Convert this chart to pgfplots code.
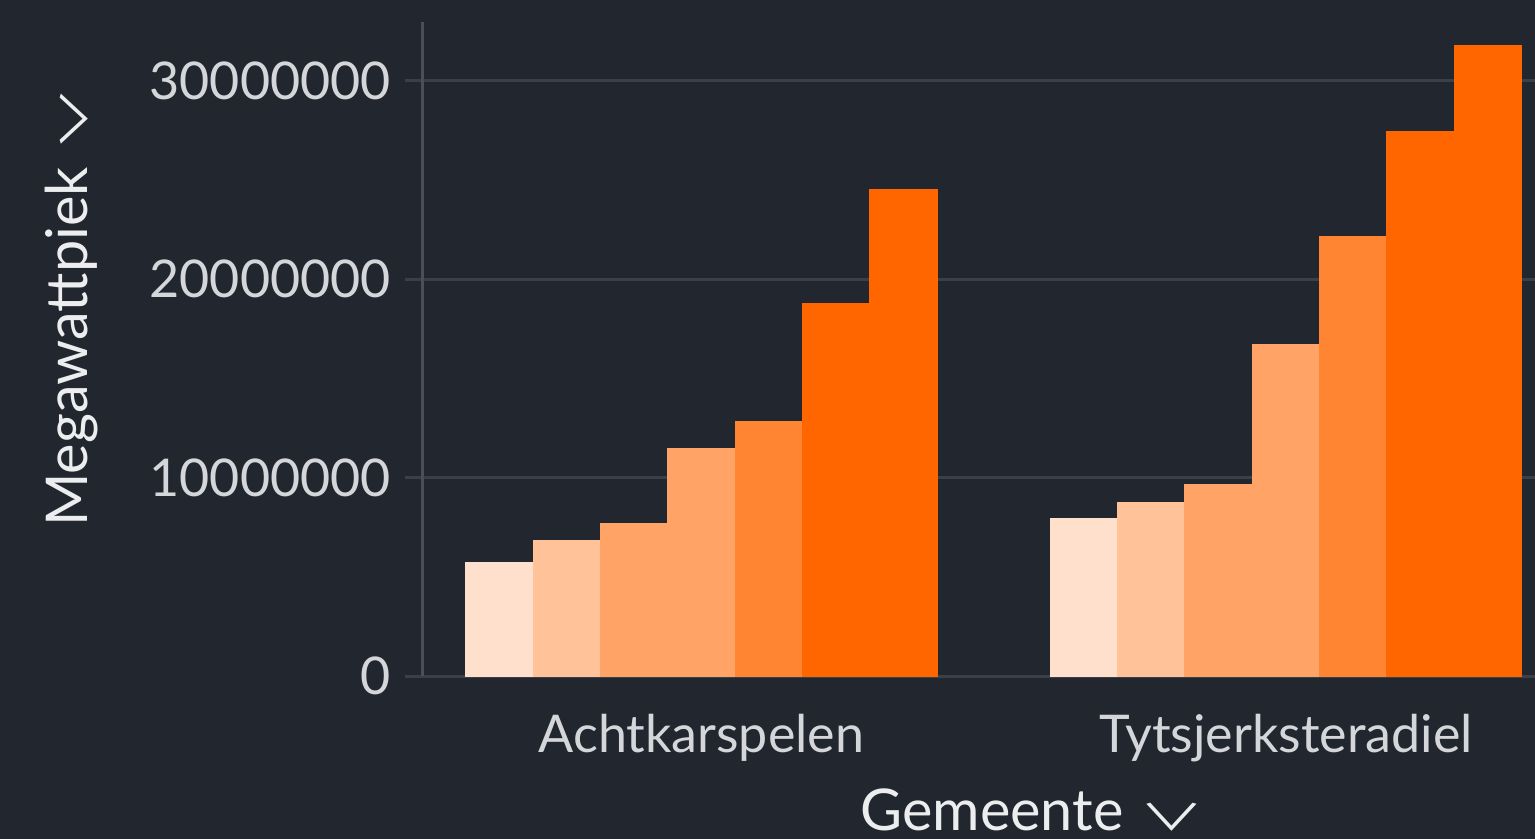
\documentclass[border=0pt]{standalone}
\usepackage{graphicx}
\usepackage{pgfplots}
\pgfplotsset{compat=1.18}
\usepackage{fontspec}
\setmainfont{Lato}
\newfontfamily\chevfont{Noto Sans CJK JP}
\newcommand{\chev}{\hspace{4bp}{\chevfont\fontsize{9bp}{10bp}\selectfont\scalebox{1.8}[1]{∨}}}
\definecolor{bg}{HTML}{22262E}
\definecolor{gridc}{HTML}{3A3F48}
\definecolor{axisc}{HTML}{4A4F58}
\definecolor{tickc}{HTML}{D4D6DA}
\definecolor{labc}{HTML}{ECEDEF}
\definecolor{c1}{HTML}{FFE0CC}
\definecolor{c2}{HTML}{FFC299}
\definecolor{c3}{HTML}{FFA366}
\definecolor{c4}{HTML}{FFA366}
\definecolor{c5}{HTML}{FF8533}
\definecolor{c6}{HTML}{FF6600}
\definecolor{c7}{HTML}{FF6600}
\begin{document}
\begin{tikzpicture}
\path[use as bounding box, fill=bg] (-105.75bp,-40.75bp) rectangle (278bp,169bp);
\begin{axis}[
  at={(0,0)}, anchor=south west,
  width=278bp, height=163.5bp, scale only axis,
  xmin=-0.4765, xmax=1.426,
  ymin=0, ymax=32975000,
  scaled y ticks=false,
  axis x line*=bottom, axis y line*=left,
  x axis line style={draw=gridc, line width=0.75bp, -},
  y axis line style={draw=axisc, line width=0.75bp, -},
  xtick={0,1}, xticklabels={Achtkarspelen,Tytsjerksteradiel},
  xtick style={draw=none},
  ytick={0,10000000,20000000,30000000},
  yticklabels={0,10000000,20000000,30000000},
  ytick style={draw=gridc, line width=0.75bp},
  tick align=outside, major tick length=4.5bp,
  ymajorgrids, grid style={draw=gridc, line width=0.75bp},
  /pgf/number format/assume math mode=true,
  yticklabel style={font=\fontsize{13bp}{15bp}\selectfont, text=tickc},
  xticklabel style={font=\fontsize{13bp}{15bp}\selectfont, text=tickc, yshift=-1.5bp},
  xlabel={Gemeente\chev},
  ylabel={Megawattpiek\chev},
  xlabel style={font=\fontsize{14.4bp}{16bp}\selectfont, text=labc, at={(rel axis cs:0.548,-0.205)}, anchor=center},
  ylabel style={font=\fontsize{14.4bp}{16bp}\selectfont, text=labc, at={(rel axis cs:-0.3165,0.565)}, anchor=center},
  clip=false,
  every axis plot/.append style={ybar, bar width=0.11514, bar shift=0pt, line width=0.3bp},
]
\addplot[fill=c1, draw=c1] coordinates {(-0.34542,5710000) (0.65458,7930000)};
\addplot[fill=c2, draw=c2] coordinates {(-0.23028,6810000) (0.76972,8750000)};
\addplot[fill=c3, draw=c3] coordinates {(-0.11514,7680000) (0.88486,9650000)};
\addplot[fill=c4, draw=c4] coordinates {(0,11470000) (1,16700000)};
\addplot[fill=c5, draw=c5] coordinates {(0.11514,12820000) (1.11514,22160000)};
\addplot[fill=c6, draw=c6] coordinates {(0.23028,18760000) (1.23028,27440000)};
\addplot[fill=c7, draw=c7] coordinates {(0.34542,24500000) (1.34542,31790000)};
\end{axis}
\end{tikzpicture}
\end{document}
